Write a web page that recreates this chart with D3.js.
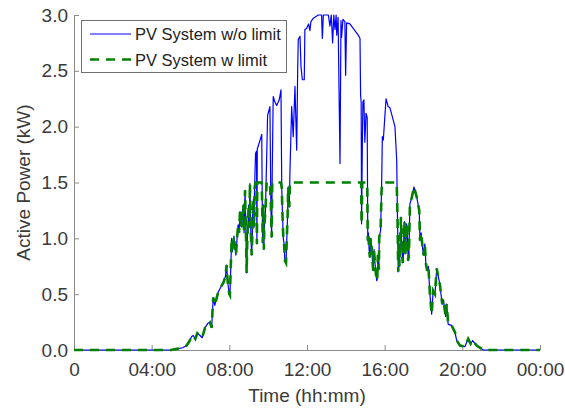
<!DOCTYPE html>
<html>
<head>
<meta charset="utf-8">
<script src="https://cdn.jsdelivr.net/npm/d3@7/dist/d3.min.js"></script>
<style>
  html, body { margin: 0; padding: 0; background: #fff; }
  svg { display: block; font-family: "Liberation Sans", Arial, sans-serif; }
</style>
</head>
<body>
<svg id="chart" width="565" height="409"></svg>
<script>
// Time of day (hours) for each sample
const times = [
  0, 5.0, 5.3, 5.6, 5.8, 5.95, 6.06, 6.14, 6.25, 6.35,
  6.49, 6.6, 6.75, 6.9, 7.0, 7.09, 7.17, 7.25, 7.43, 7.55,
  7.69, 7.8, 7.86, 7.92, 8.0, 8.03, 8.12, 8.16, 8.2, 8.24,
  8.29, 8.34, 8.4, 8.45, 8.5, 8.55, 8.6, 8.64, 8.68, 8.72,
  8.76, 8.81, 8.86, 8.89, 8.92, 8.95, 9.0, 9.03, 9.06, 9.1,
  9.15, 9.18, 9.2, 9.24, 9.27, 9.3, 9.35, 9.4, 9.42, 9.44,
  9.55, 9.67, 9.7, 9.72, 9.75, 9.78, 9.8, 9.86, 9.92, 9.97,
  10.09, 10.14, 10.18, 10.21, 10.26, 10.35, 10.44, 10.57, 10.66, 10.7,
  10.74, 10.78, 10.82, 10.86, 10.92, 10.96, 11.0, 11.03, 11.09, 11.12,
  11.21, 11.29, 11.38, 11.47, 11.52, 11.55, 11.64, 11.69, 11.76, 11.86,
  11.89, 11.98, 12.08, 12.15, 12.2, 12.32, 12.41, 12.5, 12.58, 12.75,
  12.79, 12.84, 13.1, 13.18, 13.25, 13.32, 13.38, 13.44, 13.5, 13.53,
  13.6, 13.7, 13.75, 13.78, 13.85, 13.95, 13.99, 14.04, 14.21, 14.38,
  14.64, 14.73, 14.76, 14.79, 14.81, 14.85, 14.88, 14.93, 14.98, 15.04,
  15.1, 15.13, 15.16, 15.2, 15.24, 15.28, 15.33, 15.37, 15.41, 15.45,
  15.5, 15.55, 15.59, 15.62, 15.65, 15.67, 15.7, 15.72, 15.79, 15.84,
  15.88, 15.93, 16.07, 16.18, 16.27, 16.53, 16.62, 16.66, 16.70, 16.73,
  16.76, 16.79, 16.81, 16.84, 16.88, 16.93, 16.96, 16.99, 17.02, 17.06,
  17.09, 17.13, 17.17, 17.21, 17.25, 17.3, 17.39, 17.51, 17.65, 17.78,
  17.82, 17.88, 17.96, 18.0, 18.07, 18.12, 18.19, 18.25, 18.3, 18.33,
  18.42, 18.5, 18.59, 18.68, 18.85, 18.9, 18.97, 19.03, 19.1, 19.14,
  19.19, 19.23, 19.27, 19.45, 19.62, 19.71, 19.88, 20.13, 20.3, 20.43,
  20.53, 20.74, 21.08, 24
];

// Active power without export limit (kW)
const pvNoLimit = [
  0, 0, 0.01, 0.02, 0.04, 0.08, 0.12, 0.13, 0.10, 0.15,
  0.13, 0.11, 0.20, 0.24, 0.25, 0.20, 0.47, 0.40, 0.52, 0.56,
  0.60, 0.66, 0.76, 0.60, 0.50, 0.49, 1.00, 0.88, 0.95, 1.02,
  0.92, 0.85, 1.00, 1.12, 1.05, 1.24, 1.13, 1.10, 1.22, 1.30,
  1.05, 1.43, 1.00, 0.69, 0.95, 1.10, 1.30, 1.10, 1.49, 1.10,
  0.85, 1.00, 1.20, 1.35, 1.10, 1.45, 1.76, 1.78, 0.95, 1.80,
  1.86, 1.93, 1.20, 0.96, 1.30, 0.90, 1.10, 1.25, 1.70, 2.10,
  2.18, 1.30, 1.01, 1.60, 2.27, 2.22, 2.19, 2.24, 2.33, 1.45,
  1.20, 1.00, 0.95, 0.80, 0.78, 1.00, 1.20, 1.46, 1.28, 1.58,
  2.18, 1.91, 2.36, 1.79, 2.51, 2.78, 2.81, 2.54, 2.42, 2.42,
  2.87, 2.88, 2.92, 2.86, 2.94, 2.97, 2.98, 2.99, 3.00, 3.00,
  2.79, 3.00, 3.00, 2.90, 3.00, 2.75, 3.00, 2.87, 3.00, 2.82,
  2.98, 1.67, 2.95, 2.80, 2.96, 2.94, 2.46, 2.93, 2.92, 2.88,
  2.82, 2.79, 2.28, 2.22, 1.13, 1.83, 2.22, 2.24, 1.86, 2.12,
  2.08, 0.98, 1.05, 0.90, 0.83, 1.00, 0.92, 0.80, 0.71, 0.90,
  0.78, 0.68, 0.62, 0.64, 0.85, 0.78, 0.72, 1.01, 1.07, 1.43,
  1.91, 1.88, 2.25, 2.18, 2.17, 2.00, 1.70, 1.19, 0.70, 0.95,
  0.75, 0.89, 1.05, 1.19, 0.92, 0.78, 0.82, 1.07, 1.15, 0.86,
  0.90, 1.13, 1.05, 0.80, 0.85, 1.31, 1.36, 1.46, 1.37, 1.25,
  0.98, 1.05, 0.90, 0.85, 0.95, 0.78, 0.71, 0.75, 0.60, 0.50,
  0.32, 0.53, 0.50, 0.73, 0.58, 0.50, 0.41, 0.45, 0.35, 0.30,
  0.41, 0.33, 0.23, 0.22, 0.16, 0.085, 0.04, 0.03, 0.10, 0.055,
  0.085, 0.04, 0, 0
];

// Active power with the 1.5 kW export limit (kW)
const pvLimit = [
  0, 0, 0.01, 0.02, 0.04, 0.08, 0.12, 0.13, 0.10, 0.15,
  0.13, 0.11, 0.20, 0.24, 0.25, 0.20, 0.47, 0.40, 0.52, 0.56,
  0.60, 0.66, 0.76, 0.60, 0.50, 0.49, 1.00, 0.88, 0.95, 1.02,
  0.92, 0.85, 1.00, 1.12, 1.05, 1.24, 1.13, 1.10, 1.22, 1.30,
  1.05, 1.43, 1.00, 0.69, 0.95, 1.10, 1.30, 1.10, 1.49, 1.10,
  0.85, 1.00, 1.20, 1.35, 1.10, 1.45, 1.50, 1.50, 0.95, 1.50,
  1.50, 1.50, 1.20, 0.96, 1.30, 0.90, 1.10, 1.25, 1.50, 1.50,
  1.50, 1.30, 1.01, 1.50, 1.50, 1.50, 1.50, 1.50, 1.50, 1.45,
  1.20, 1.00, 0.95, 0.80, 0.78, 1.00, 1.20, 1.46, 1.28, 1.50,
  1.50, 1.50, 1.50, 1.50, 1.50, 1.50, 1.50, 1.50, 1.50, 1.50,
  1.50, 1.50, 1.50, 1.50, 1.50, 1.50, 1.50, 1.50, 1.50, 1.50,
  1.50, 1.50, 1.50, 1.50, 1.50, 1.50, 1.50, 1.50, 1.50, 1.50,
  1.50, 1.50, 1.50, 1.50, 1.50, 1.50, 1.50, 1.50, 1.50, 1.50,
  1.50, 1.50, 1.50, 1.50, 1.13, 1.50, 1.50, 1.50, 1.50, 1.50,
  1.50, 0.98, 1.05, 0.90, 0.83, 1.00, 0.92, 0.80, 0.71, 0.90,
  0.78, 0.68, 0.62, 0.64, 0.85, 0.78, 0.72, 1.01, 1.07, 1.43,
  1.50, 1.50, 1.50, 1.50, 1.50, 1.50, 1.50, 1.19, 0.70, 0.95,
  0.75, 0.89, 1.05, 1.19, 0.92, 0.78, 0.82, 1.07, 1.15, 0.86,
  0.90, 1.13, 1.05, 0.80, 0.85, 1.31, 1.36, 1.46, 1.37, 1.25,
  0.98, 1.05, 0.90, 0.85, 0.95, 0.78, 0.71, 0.75, 0.60, 0.50,
  0.32, 0.53, 0.50, 0.73, 0.58, 0.50, 0.41, 0.45, 0.35, 0.30,
  0.41, 0.33, 0.23, 0.22, 0.16, 0.085, 0.04, 0.03, 0.10, 0.055,
  0.085, 0.04, 0, 0
];

const xTicks = [0, 4, 8, 12, 16, 20, 24];
const xTickLabels = ["0", "04:00", "08:00", "12:00", "16:00", "20:00", "00:00"];
const yTicks = [0, 0.5, 1.0, 1.5, 2.0, 2.5, 3.0];
const seriesNames = ["PV System w/o limit", "PV System w limit"];

const svg = d3.select("#chart");
const x = d3.scaleLinear().domain([0, 24]).range([74, 540]);
const y = d3.scaleLinear().domain([0, 3]).range([350, 15]);

const axisColor = "#8a8a8a";
const textColor = "#3a3a3a";

// Axes (inward ticks, no box)
const gx = svg.append("g")
  .attr("transform", `translate(0,${y(0)})`)
  .call(d3.axisBottom(x).tickValues(xTicks)
    .tickFormat((d, i) => xTickLabels[i])
    .tickSizeInner(-5).tickSizeOuter(0).tickPadding(13));
const gy = svg.append("g")
  .attr("transform", `translate(${x(0)},0)`)
  .call(d3.axisLeft(y).tickValues(yTicks)
    .tickFormat(d3.format(".1f"))
    .tickSizeInner(-5).tickSizeOuter(0).tickPadding(6));

[gx, gy].forEach(g => {
  g.select(".domain").attr("stroke", axisColor);
  g.selectAll(".tick line").attr("stroke", axisColor);
  g.selectAll(".tick text").attr("fill", textColor)
    .style("font-size", "19px").style("font-family", "'Liberation Sans', Arial, sans-serif");
});

// Data lines
const pts = times.map((t, i) => ({ t, a: pvNoLimit[i], b: pvLimit[i] }));
const lineA = d3.line().x(d => x(d.t)).y(d => y(d.a));
const lineB = d3.line().x(d => x(d.t)).y(d => y(d.b));

svg.append("path").datum(pts)
  .attr("d", lineA).attr("fill", "none")
  .attr("stroke", "#0000ff").attr("stroke-width", 1.2)
  .attr("stroke-linejoin", "round");

svg.append("path").datum(pts)
  .attr("d", lineB).attr("fill", "none")
  .attr("stroke", "#008000").attr("stroke-width", 2.6)
  .attr("stroke-dasharray", "9,7");

// Axis titles
svg.append("text")
  .attr("x", x(12)).attr("y", 402)
  .attr("text-anchor", "middle")
  .attr("fill", textColor).style("font-size", "19px")
  .text("Time (hh:mm)");

svg.append("text")
  .attr("transform", `translate(30,${(y(0) + y(3)) / 2}) rotate(-90)`)
  .attr("text-anchor", "middle")
  .attr("fill", textColor).style("font-size", "19px")
  .text("Active Power (kW)");

// Legend
const lg = svg.append("g");
lg.append("rect")
  .attr("x", 81.5).attr("y", 20.5).attr("width", 205).attr("height", 52)
  .attr("fill", "#fff").attr("stroke", "#707070").attr("stroke-width", 1);
lg.append("line").attr("x1", 90).attr("x2", 131).attr("y1", 34).attr("y2", 34)
  .attr("stroke", "#0000ff").attr("stroke-width", 1.2);
lg.append("line").attr("x1", 90).attr("x2", 132).attr("y1", 59.5).attr("y2", 59.5)
  .attr("stroke", "#008000").attr("stroke-width", 2.6).attr("stroke-dasharray", "9,7");
lg.selectAll("text.entry").data(seriesNames).enter().append("text")
  .attr("class", "entry")
  .attr("x", 135).attr("y", (d, i) => 40 + i * 25.5)
  .attr("fill", "#222").style("font-size", "16.5px")
  .text(d => d);
</script>
</body>
</html>
